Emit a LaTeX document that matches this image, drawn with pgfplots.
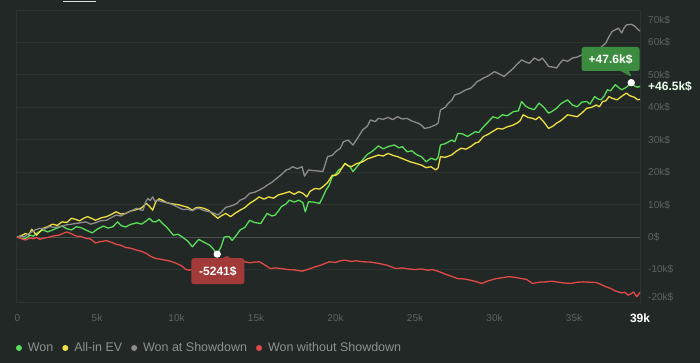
\documentclass[border=0pt]{standalone}
\usepackage{pgfplots}
\pgfplotsset{compat=1.18}
\usepackage{fontspec}
\setmainfont{Liberation Sans}
\usetikzlibrary{shapes.callouts}
\definecolor{bg}{HTML}{222826}
\definecolor{gridc}{HTML}{2D3330}
\definecolor{zeroc}{HTML}{4C514F}
\definecolor{tickc}{HTML}{5E6461}
\definecolor{legtext}{HTML}{8D918F}
\definecolor{wonc}{HTML}{5ADE5A}
\definecolor{evc}{HTML}{EEE042}
\definecolor{sdc}{HTML}{8C8C8C}
\definecolor{nsdc}{HTML}{E24A4A}
\definecolor{boxgreen}{HTML}{3C8C3F}
\definecolor{boxred}{HTML}{A23A3A}
\begin{document}
\begin{tikzpicture}
\fill[bg] (0,0) rectangle (700pt,363pt);
\useasboundingbox (0,0) rectangle (700pt,363pt);
\draw[white!75!gray, line width=1.6pt] (63pt,361.5pt) -- (96pt,361.5pt);
\begin{axis}[
  at={(16pt,61pt)}, anchor=south west,
  width=624pt, height=292pt, scale only axis,
  xmin=-0.094, xmax=39.15, ymin=-20, ymax=70,
  clip=false,
  axis line style={draw=gridc, line width=0.8pt},
  major tick length=0pt,
  ymajorgrids, grid style={gridc, line width=0.8pt},
  ytick={-10,10,20,30,40,50,60},
  yticklabels={-10k\$,10k\$,20k\$,30k\$,40k\$,50k\$,60k\$},
  yticklabel pos=right,
  yticklabel style={anchor=west, inner sep=0pt, xshift=8pt, text=tickc, font=\fontsize{10}{12}\selectfont},
  extra y ticks={0},
  extra y tick labels={0\$},
  extra y tick style={grid style={zeroc, line width=1.2pt}},
  xtick={0,5,10,15,20,25,30,35},
  xticklabels={0,5k,10k,15k,20k,25k,30k,35k},
  xticklabel style={anchor=center, inner sep=0pt, yshift=-16pt, text=tickc, font=\fontsize{10}{12}\selectfont},
  extra x ticks={39.15},
  extra x tick labels={39k},
  extra x tick style={xmajorgrids=false, xticklabel style={text=white, font=\bfseries\fontsize{12}{14}\selectfont}},
  legend style={at={(0,-0.1575)}, anchor=west, draw=none, fill=none, text=legtext,
    font=\fontsize{12.5}{14}\selectfont, inner sep=0pt, outer sep=0pt,
    /tikz/every odd column/.append style={column sep=4pt},
    /tikz/every even column/.append style={column sep=7pt}},
  legend columns=4, legend cell align=left,
  legend image code/.code={\fill (2.3pt,0pt) circle (2.3pt);},
  every axis plot/.append style={line width=1.3pt, line join=round},
]
% Won
\addplot[color=wonc] coordinates {
(0,0) (0.3,-0.5) (0.5,-0.4) (0.8,0.6) (1.0,0.3) (1.3,1.5) (1.6,2.2) (1.9,1.6) (2.2,2.2) (2.5,2.8)
(2.8,3.4) (3.1,2.6) (3.4,2.2) (3.7,3.2) (4.0,2.9) (4.3,2.2) (4.7,1.3) (5.0,2.4) (5.4,3.4) (5.7,2.8)
(6.0,3.2) (6.3,4.7) (6.5,3.6) (6.8,3.1) (7.1,3.9) (7.5,4.4) (7.8,4.0) (8.1,5.0) (8.3,5.8) (8.5,4.8)
(8.7,4.7) (8.9,5.4) (9.1,4.3) (9.4,3.0) (9.8,0.6) (10.1,0.9) (10.4,-0.1) (10.7,-1.2) (11.0,-3.0) (11.2,-1.8)
(11.4,-0.7) (11.7,-1.5) (12.1,-2.5) (12.3,-3.6) (12.56,-5.24) (12.8,-3.0) (13.0,0.0) (13.3,0.2) (13.5,-1.0) (13.8,0.8)
(14.0,2.2) (14.3,3.0) (14.6,5.2) (14.9,4.5) (15.3,4.2) (15.5,5.8) (15.7,7.3) (16.0,6.5) (16.2,6.8) (16.4,8.0)
(16.6,9.4) (16.9,10.3) (17.1,11.4) (17.4,10.8) (17.7,11.4) (17.95,10.6) (18.1,7.8) (18.3,10.9) (18.6,10.8) (19.0,10.4)
(19.2,12.3) (19.4,14.5) (19.6,16.0) (19.8,18.6) (20.0,19.4) (20.2,20.7) (20.4,21.3) (20.6,22.7) (20.9,21.7) (21.1,20.2)
(21.4,22.0) (21.7,23.8) (22.0,25.5) (22.3,26.4) (22.7,28.1) (23.0,27.2) (23.3,27.9) (23.7,28.4) (24.0,27.5) (24.2,27.9)
(24.5,26.3) (24.8,26.6) (25.1,25.4) (25.4,24.8) (25.7,23.2) (26.0,24.3) (26.3,23.8) (26.45,24.5) (26.6,28.4) (26.9,28.8)
(27.3,29.9) (27.5,29.4) (27.7,32.0) (28.0,31.8) (28.3,31.0) (28.5,31.6) (28.8,32.5) (29.0,32.2) (29.3,34.0) (29.6,35.5)
(29.9,37.1) (30.2,36.6) (30.5,37.7) (30.8,37.4) (31.2,38.7) (31.5,38.9) (31.7,41.8) (31.95,40.4) (32.2,39.7) (32.5,39.3)
(32.8,41.3) (33.1,40.0) (33.4,38.2) (33.6,38.7) (33.9,39.7) (34.2,41.2) (34.6,42.3) (34.9,40.7) (35.2,40.2) (35.5,41.6)
(35.8,41.8) (36.0,41.0) (36.3,43.3) (36.5,42.6) (36.7,42.3) (36.9,43.5) (37.1,45.4) (37.3,45.1) (37.6,47.0) (37.8,46.1)
(38.0,45.4) (38.3,46.2) (38.6,47.6) (38.8,46.6) (39.0,46.2) (39.15,46.5)
};
\addlegendentry{Won}
% All-in EV
\addplot[color=evc] coordinates {
(0,0) (0.3,0.6) (0.5,1.1) (0.7,0.7) (0.9,2.4) (1.2,0.6) (1.4,1.6) (1.6,2.7) (1.9,3.2) (2.2,4.0)
(2.5,3.6) (2.8,4.7) (3.1,4.5) (3.4,5.8) (3.7,5.4) (3.9,5.0) (4.2,5.9) (4.4,6.3) (4.7,5.7) (4.9,5.2)
(5.3,6.0) (5.6,6.3) (5.9,7.0) (6.2,7.8) (6.5,7.1) (6.8,7.3) (7.1,8.0) (7.5,8.5) (7.8,9.0) (8.1,10.4)
(8.3,9.5) (8.5,8.3) (8.7,10.9) (8.9,11.8) (9.1,11.4) (9.4,10.6) (9.8,10.2) (10.1,10.0) (10.4,9.6) (10.7,9.2)
(11.0,8.3) (11.2,9.0) (11.4,9.2) (11.7,8.9) (12.0,8.3) (12.3,7.0) (12.6,5.8) (12.8,6.5) (13.1,7.3) (13.4,6.3)
(13.7,7.4) (14.0,8.3) (14.3,9.1) (14.6,10.4) (14.9,11.3) (15.2,12.4) (15.5,11.7) (15.8,12.4) (16.1,12.0) (16.4,13.0)
(16.7,13.4) (17.1,14.0) (17.4,13.2) (17.7,14.0) (17.95,13.5) (18.2,12.4) (18.4,14.1) (18.7,15.0) (19.0,14.8) (19.2,15.5)
(19.5,16.8) (19.8,19.1) (20.0,19.0) (20.2,19.7) (20.4,21.3) (20.6,22.7) (20.8,22.0) (21.0,21.7) (21.3,22.6) (21.7,23.2)
(22.0,24.1) (22.3,24.6) (22.7,25.3) (23.0,25.0) (23.3,25.8) (23.6,25.2) (23.9,24.8) (24.2,24.2) (24.5,23.6) (24.7,23.2)
(25.0,22.8) (25.4,22.2) (25.7,21.4) (26.0,21.7) (26.3,20.7) (26.45,21.3) (26.6,24.8) (26.9,24.6) (27.3,25.3) (27.6,26.5)
(27.9,27.4) (28.2,27.1) (28.5,27.9) (28.8,29.0) (29.0,29.3) (29.3,31.0) (29.6,31.7) (29.9,32.6) (30.2,33.5) (30.5,33.3)
(30.8,34.0) (31.1,34.4) (31.4,35.1) (31.6,35.8) (31.8,37.7) (32.1,36.9) (32.4,36.6) (32.6,36.2) (32.8,37.1) (33.1,35.5)
(33.4,33.5) (33.7,34.3) (33.9,35.1) (34.2,36.0) (34.6,37.7) (34.9,37.4) (35.2,37.1) (35.5,38.3) (35.8,39.7) (36.1,40.0)
(36.4,40.7) (36.6,40.2) (36.8,41.8) (37.0,42.0) (37.2,43.3) (37.4,42.8) (37.7,42.3) (38.0,43.4) (38.3,44.4) (38.5,43.6)
(38.8,43.1) (39.0,42.3) (39.15,42.5)
};
\addlegendentry{All-in EV}
% Won at Showdown
\addplot[color=sdc] coordinates {
(0,0) (0.2,0.3) (0.4,0.0) (0.6,0.8) (0.8,1.3) (1.1,2.2) (1.4,2.7) (1.7,2.5) (2.0,3.2) (2.4,3.0)
(2.8,3.4) (3.1,3.8) (3.4,4.0) (3.8,4.3) (4.3,4.7) (4.6,4.0) (4.9,4.4) (5.2,5.0) (5.6,5.2) (5.9,6.0)
(6.2,6.8) (6.5,6.5) (6.8,7.3) (7.1,8.0) (7.5,8.9) (7.7,8.4) (7.9,8.3) (8.05,10.8) (8.2,11.9) (8.35,11.3)
(8.5,12.4) (8.65,11.0) (8.8,11.4) (9.1,10.9) (9.5,10.5) (9.8,9.9) (10.1,9.2) (10.4,8.5) (10.7,8.6) (11.0,8.1)
(11.2,8.7) (11.4,8.9) (11.7,8.2) (12.1,7.8) (12.4,7.3) (12.6,6.8) (12.8,7.6) (13.1,9.2) (13.3,9.4) (13.6,9.9)
(13.8,10.4) (14.0,11.4) (14.3,12.0) (14.6,13.5) (14.9,13.8) (15.2,14.5) (15.5,15.3) (15.7,16.0) (16.0,16.9) (16.3,18.1)
(16.6,19.3) (16.9,20.7) (17.1,21.0) (17.3,21.7) (17.6,21.1) (17.9,21.7) (18.05,18.8) (18.3,20.7) (18.6,20.5) (18.9,20.4)
(19.2,20.2) (19.35,22.4) (19.5,24.8) (19.8,25.2) (20.0,26.3) (20.3,27.4) (20.5,29.4) (20.8,29.9) (21.1,28.4) (21.4,30.6)
(21.7,33.0) (22.0,34.2) (22.2,36.1) (22.5,35.6) (22.7,36.6) (23.0,36.3) (23.3,36.9) (23.6,36.2) (23.9,37.1) (24.2,36.4)
(24.5,36.6) (24.8,35.8) (25.2,35.1) (25.4,34.5) (25.6,33.5) (25.9,33.8) (26.3,34.6) (26.45,35.1) (26.6,39.2) (26.9,40.0)
(27.1,41.3) (27.3,42.1) (27.5,43.8) (27.8,44.3) (28.2,45.4) (28.5,45.9) (28.7,46.8) (28.9,47.9) (29.1,48.4) (29.3,49.0)
(29.6,49.7) (30.0,51.0) (30.3,50.3) (30.6,49.5) (30.9,50.8) (31.2,52.1) (31.4,53.2) (31.7,54.6) (32.0,53.9) (32.2,53.6)
(32.5,55.2) (32.8,54.4) (33.0,55.2) (33.2,54.0) (33.4,52.6) (33.7,52.4) (33.9,52.1) (34.1,53.5) (34.3,54.6) (34.6,54.2)
(34.9,55.2) (35.2,55.5) (35.5,56.2) (35.8,56.6) (36.1,57.3) (36.4,57.7) (36.7,58.5) (37.0,59.8) (37.2,61.8) (37.4,63.4)
(37.6,63.9) (37.8,64.4) (38.0,62.9) (38.15,64.5) (38.3,65.4) (38.6,65.6) (38.8,65.1) (39.0,64.1) (39.15,63.5)
};
\addlegendentry{Won at Showdown}
% Won without Showdown
\addplot[color=nsdc] coordinates {
(0,0) (0.3,-0.6) (0.5,-0.9) (0.8,-0.3) (1.0,-0.5) (1.2,-0.1) (1.4,-0.7) (1.6,-0.4) (1.9,-0.1) (2.2,0.3)
(2.6,0.6) (2.9,1.2) (3.1,1.6) (3.4,1.0) (3.7,0.3) (4.0,0.2) (4.3,-0.4) (4.6,-0.6) (4.9,-1.8) (5.2,-1.4)
(5.6,-1.1) (5.9,-1.6) (6.2,-2.2) (6.5,-2.5) (6.8,-3.2) (7.1,-3.4) (7.5,-4.0) (7.8,-4.4) (8.1,-5.0) (8.4,-6.0)
(8.7,-6.6) (9.0,-6.8) (9.3,-7.1) (9.6,-7.4) (10.0,-8.1) (10.3,-8.8) (10.6,-10.0) (10.8,-10.2) (11.2,-9.8) (11.6,-10.0)
(12.0,-9.5) (12.5,-9.3) (13.0,-8.8) (13.5,-8.5) (14.0,-8.1) (14.3,-7.6) (14.6,-7.9) (14.9,-7.7) (15.2,-7.6) (15.5,-8.4)
(15.9,-9.7) (16.2,-9.5) (16.6,-9.7) (17.0,-10.0) (17.4,-10.1) (17.9,-10.5) (18.3,-9.9) (18.7,-9.2) (19.1,-8.6) (19.6,-7.6)
(20.0,-7.8) (20.3,-7.3) (20.6,-7.1) (21.0,-7.5) (21.3,-7.3) (21.7,-7.6) (22.2,-7.7) (22.7,-8.1) (23.2,-8.6) (23.8,-9.7)
(24.2,-9.5) (24.6,-9.8) (25.0,-10.0) (25.4,-9.8) (25.8,-10.2) (26.1,-10.0) (26.5,-10.6) (26.9,-11.4) (27.3,-12.1) (27.7,-12.8)
(28.1,-12.9) (28.5,-13.3) (28.9,-13.8) (29.2,-14.3) (29.6,-13.5) (30.1,-12.8) (30.5,-12.5) (30.9,-12.2) (31.3,-12.4) (31.7,-12.8)
(32.0,-13.0) (32.4,-14.3) (32.8,-13.9) (33.2,-13.8) (33.6,-13.6) (33.9,-13.8) (34.3,-14.1) (34.8,-14.3) (35.2,-13.9) (35.6,-13.8)
(36.0,-13.9) (36.4,-14.0) (36.7,-14.6) (37.0,-15.3) (37.3,-15.8) (37.6,-16.6) (38.0,-17.2) (38.2,-17.0) (38.4,-17.9) (38.6,-17.4)
(38.75,-16.9) (38.95,-18.4) (39.15,-17.0)
};
\addlegendentry{Won without Showdown}
% min / max markers
\addplot[only marks, mark=*, mark size=3pt, color=white, forget plot] coordinates {(12.56,-5.24) (38.6,47.6)};
% annotations
\node[rectangle callout, fill=boxgreen, rounded corners=2.5pt, text=white,
  font=\bfseries\fontsize{12}{14}\selectfont, minimum width=58pt, minimum height=24pt, inner sep=0pt,
  callout absolute pointer={(axis cs:38.65,49.3)}, callout pointer width=8pt]
  at (axis cs:37.3,54.9) {+47.6k\$};
\node[rectangle callout, fill=boxred, rounded corners=2.5pt, text=white,
  font=\bfseries\fontsize{12}{14}\selectfont, minimum width=53pt, minimum height=26pt, inner sep=0pt,
  callout absolute pointer={(axis cs:13.24,-5.6)}, callout pointer width=8pt]
  at (axis cs:12.6,-10.5) {-5241\$};
\node[anchor=west, inner sep=0pt, xshift=8pt, text=white!92!green, font=\bfseries\fontsize{12}{14}\selectfont]
  at (axis cs:39.15,46.5) {+46.5k\$};
\node[anchor=west, inner sep=0pt, xshift=8pt, yshift=-10pt, text=tickc, font=\fontsize{10}{12}\selectfont]
  at (axis cs:39.15,70) {70k\$};
\node[anchor=west, inner sep=0pt, xshift=8pt, yshift=5pt, text=tickc, font=\fontsize{10}{12}\selectfont]
  at (axis cs:39.15,-20) {-20k\$};
\end{axis}
\end{tikzpicture}
\end{document}
